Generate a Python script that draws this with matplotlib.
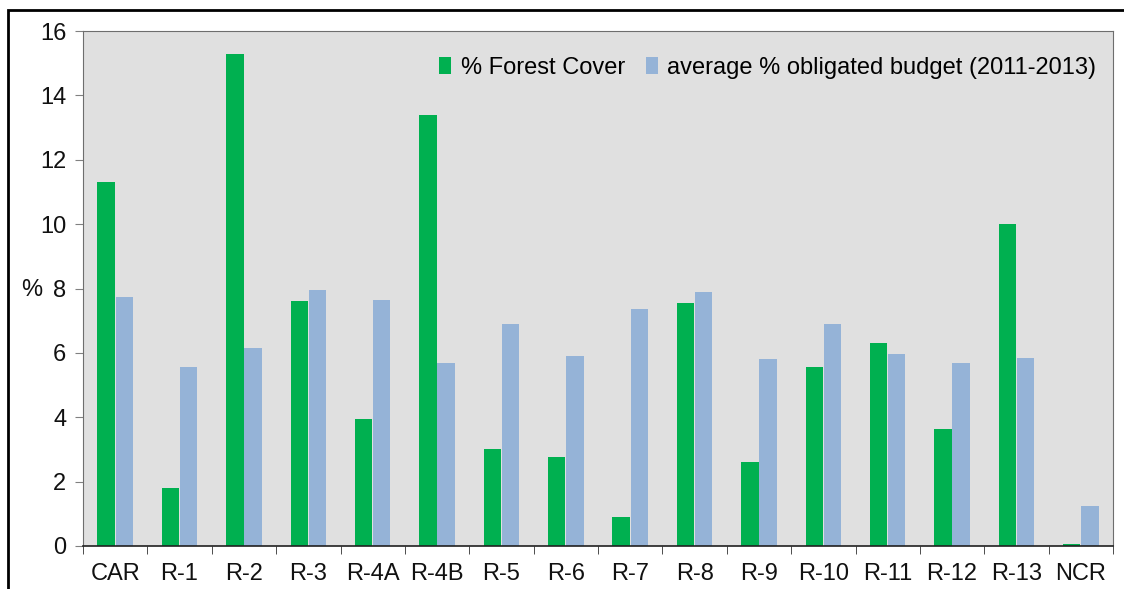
import matplotlib.pyplot as plt
import numpy as np
from matplotlib.patches import Rectangle

regions = ['CAR', 'R-1', 'R-2', 'R-3', 'R-4A', 'R-4B', 'R-5', 'R-6', 'R-7', 'R-8',
           'R-9', 'R-10', 'R-11', 'R-12', 'R-13', 'NCR']
forest_cover = [11.3, 1.8, 15.3, 7.6, 3.95, 13.4, 3.0, 2.75, 0.9, 7.55,
                2.6, 5.55, 6.3, 3.65, 10.0, 0.05]
obligated_budget = [7.75, 5.55, 6.15, 7.95, 7.65, 5.7, 6.9, 5.9, 7.35, 7.9,
                    5.8, 6.9, 5.95, 5.7, 5.85, 1.25]

plt.rcParams['font.family'] = ['Liberation Sans', 'DejaVu Sans']
fs = 17

fig = plt.figure(figsize=(11.24, 5.89), dpi=100)
ax = fig.add_axes([83/1124, 1-546/589, (1113-83)/1124, (546-31)/589])
ax.set_facecolor('#e0e0e0')

x = np.arange(len(regions))
w = 0.27
ax.bar(x - 0.14, forest_cover, width=w, color='#00b050', label='% Forest Cover')
ax.bar(x + 0.14, obligated_budget, width=w, color='#95b3d7',
       label='average % obligated budget (2011-2013)')

ax.set_xlim(-0.5, len(regions) - 0.5)
ax.set_ylim(0, 16)
ax.set_yticks(np.arange(0, 17, 2))
ax.set_xticks(x)
ax.set_xticklabels(regions)
ax.set_xticks(np.arange(-0.5, len(regions), 1), minor=True)
ax.tick_params(axis='x', which='major', length=0, labelsize=fs, pad=12)
ax.tick_params(axis='x', which='minor', length=6, color='#303030', direction='out')
ax.tick_params(axis='y', labelsize=fs, length=6, color='#808080', pad=6)
for lbl in ax.get_xticklabels() + ax.get_yticklabels():
    lbl.set_color('#111111')

for s in ['top', 'right', 'left']:
    ax.spines[s].set_color('#6e6e6e')
ax.spines['bottom'].set_color('#202020')
ax.spines['bottom'].set_linewidth(1.2)

ax.set_ylabel('%', rotation=0, fontsize=fs, va='center', ha='center', color='#111111')
ax.yaxis.set_label_coords(-0.0495, 0.497)

ax.legend(loc='upper right', frameon=False, fontsize=fs, ncol=2,
          handlelength=0.5, handleheight=0.7, handletextpad=0.4, columnspacing=0.9,
          bbox_to_anchor=(1.0, 0.982), borderaxespad=0.3)

fig.patches.append(Rectangle((8/1124, -0.1), 1.2, 1 - 10/589 + 0.1,
                             transform=fig.transFigure, fill=False,
                             edgecolor='black', linewidth=2))

fig.savefig('out.png', dpi=100)
